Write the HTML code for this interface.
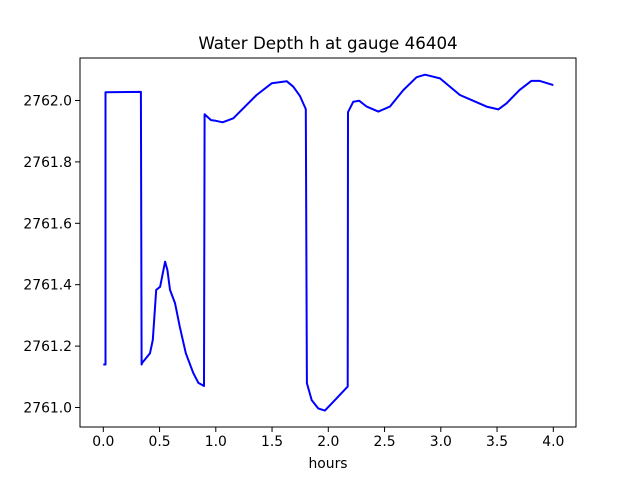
<!DOCTYPE html>
<html><head><meta charset="utf-8"><style>
body{margin:0;background:#fff;}
svg{display:block;font-family:"DejaVu Sans","Liberation Sans",sans-serif;}
</style></head><body>
<svg id="chart" width="640" height="480">
<rect width="640" height="480" fill="#fff"/>
<text x="328" y="49" font-size="16.7" text-anchor="middle">Water Depth h at gauge 46404</text>
<g id="grid"></g>
<path id="line" fill="none" stroke="#0000ff" stroke-width="2" stroke-linejoin="round"/>
<rect x="80" y="58" width="496" height="369" fill="none" stroke="#000" stroke-width="1"/>
<text x="328" y="468" font-size="13.9" text-anchor="middle">hours</text>
</svg>
<script>
const hours = [0,0.02,0.02,0.334,0.34,0.345,0.415,0.44,0.47,0.505,0.549,0.57,0.593,0.637,0.68,0.733,0.8,0.845,0.895,0.9,0.957,1.0,1.06,1.156,1.245,1.363,1.497,1.63,1.689,1.748,1.8,1.81,1.852,1.91,1.97,2.074,2.172,2.175,2.222,2.276,2.341,2.444,2.548,2.667,2.785,2.86,2.993,3.17,3.289,3.407,3.511,3.585,3.70,3.804,3.88,4.0];
const depth = [2761.14,2761.14,2762.027,2762.028,2761.14,2761.145,2761.177,2761.22,2761.383,2761.393,2761.475,2761.448,2761.383,2761.34,2761.263,2761.177,2761.112,2761.08,2761.07,2761.955,2761.936,2761.934,2761.929,2761.942,2761.975,2762.018,2762.056,2762.063,2762.045,2762.015,2761.972,2761.079,2761.024,2760.997,2760.99,2761.03,2761.068,2761.962,2761.996,2761.999,2761.98,2761.964,2761.98,2762.034,2762.076,2762.084,2762.072,2762.018,2761.999,2761.98,2761.971,2761.991,2762.034,2762.064,2762.064,2762.05];
const xTicks = [0,0.5,1,1.5,2,2.5,3,3.5,4];
const xTickLabels = ["0.0","0.5","1.0","1.5","2.0","2.5","3.0","3.5","4.0"];
const yTicks = [2761.0,2761.2,2761.4,2761.6,2761.8,2762.0];
const yTickLabels = ["2761.0","2761.2","2761.4","2761.6","2761.8","2762.0"];

const X = t => 103.3 + t*112.5;
const Y = v => 407.5 - (v-2761)*307;
const NS = "http://www.w3.org/2000/svg";
const g = document.getElementById('grid');
function mk(tag, attrs){const e=document.createElementNS(NS,tag);for(const k in attrs)e.setAttribute(k,attrs[k]);return e;}
xTicks.forEach((t,i)=>{
  const l = mk('line',{x1:X(t),x2:X(t),y1:427,y2:432,stroke:'#000'});
  
  
  g.appendChild(l);
  const tx = mk('text',{x:X(t),y:446,'font-size':13.9,'text-anchor':'middle'});
  tx.textContent = xTickLabels[i];
  
  
  g.appendChild(tx);
});
yTicks.forEach((v,i)=>{
  const l = mk('line',{x1:75,x2:80,y1:Y(v),y2:Y(v),stroke:'#000'});
  
  
  g.appendChild(l);
  const tx = mk('text',{x:72,y:Y(v)+5,'font-size':13.9,'text-anchor':'end'});
  tx.textContent = yTickLabels[i];
  
  
  g.appendChild(tx);
});
document.getElementById('line').setAttribute('d', hours.map((t,i)=>(i?'L':'M')+X(t).toFixed(1)+','+Y(depth[i]).toFixed(1)).join(''));
</script>
</body></html>
